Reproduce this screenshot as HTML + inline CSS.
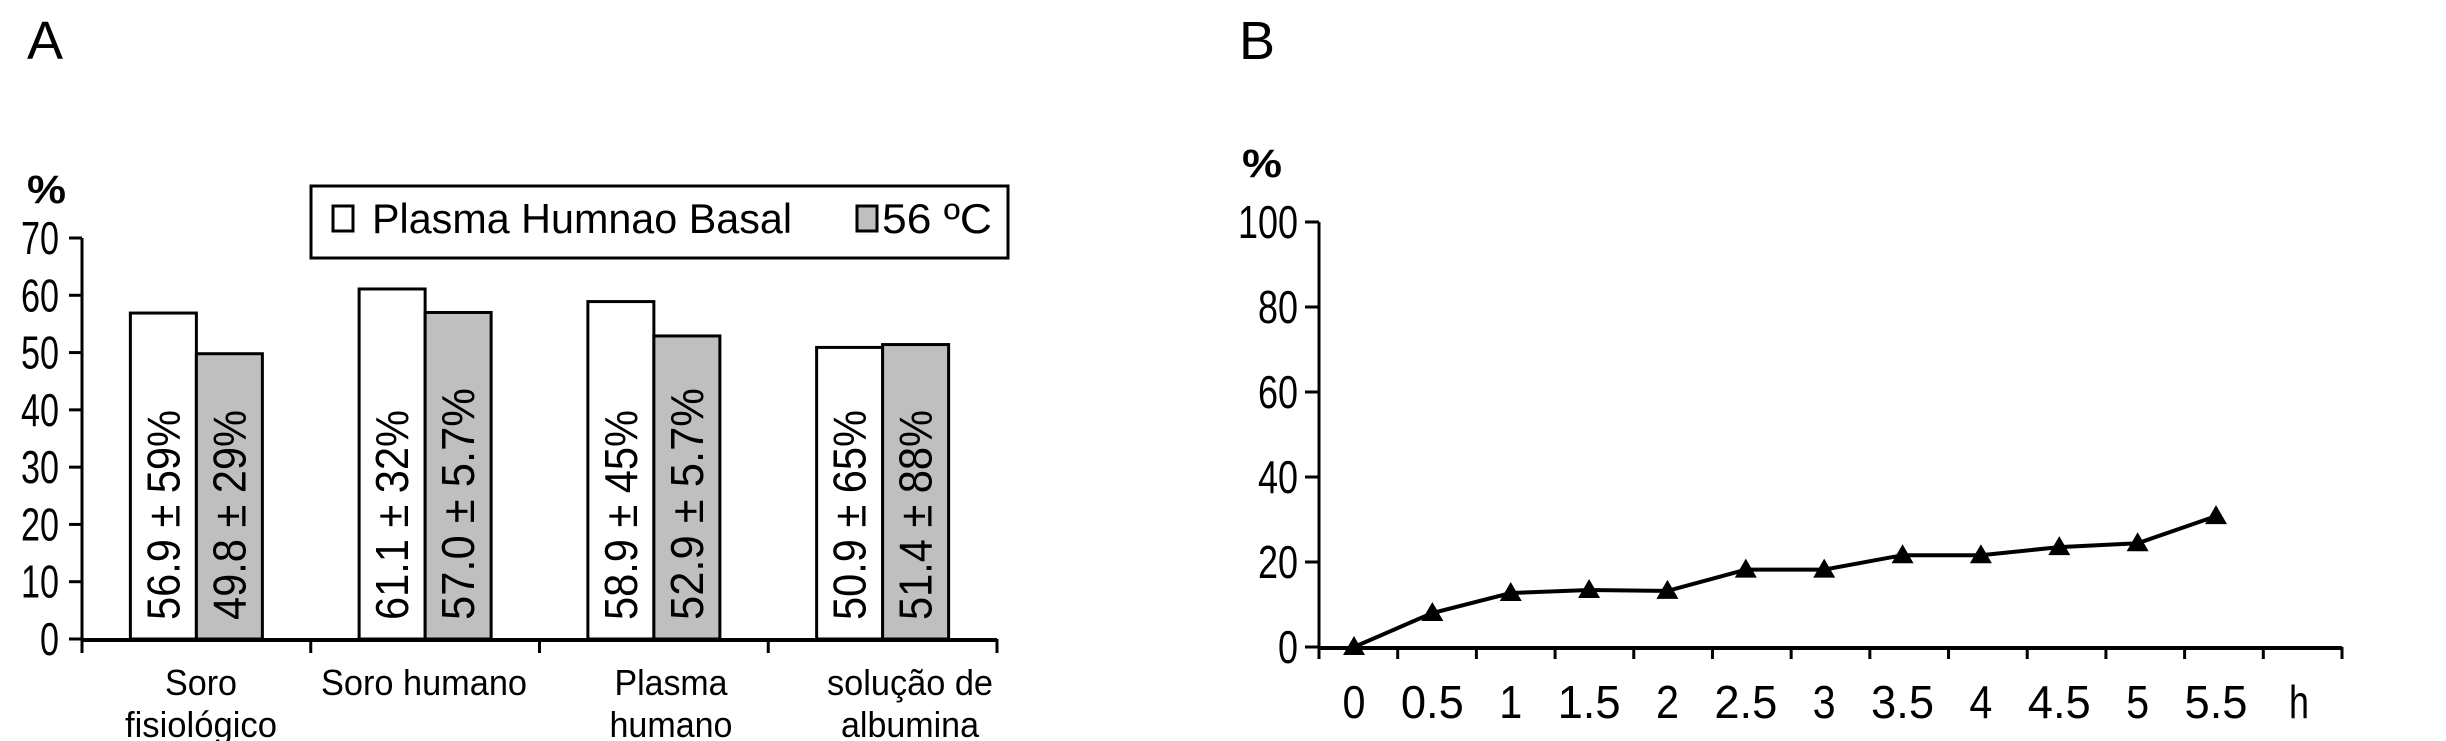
<!DOCTYPE html>
<html><head><meta charset="utf-8"><style>
html,body{margin:0;padding:0;background:#fff;}
svg{display:block;font-family:"Liberation Sans",sans-serif;}
</style></head><body>
<svg id="s" width="2446" height="741" viewBox="0 0 2446 741">
<text x="27" y="59" font-size="54">A</text>
<text x="1239" y="59" font-size="54">B</text>
<text x="27" y="203" font-size="40" font-weight="bold" textLength="39" lengthAdjust="spacingAndGlyphs">%</text>
<text x="1242" y="177" font-size="40" font-weight="bold" textLength="40" lengthAdjust="spacingAndGlyphs">%</text>
<g>
<rect x="311" y="186" width="697" height="72" fill="#fff" stroke="#000" stroke-width="3"/>
<rect x="333" y="206" width="20" height="25" fill="#fff" stroke="#000" stroke-width="3"/>
<text x="372" y="233" font-size="42" textLength="420" lengthAdjust="spacingAndGlyphs">Plasma Humnao Basal</text>
<rect x="857" y="206" width="20" height="25" fill="#bfbfbf" stroke="#000" stroke-width="3"/>
<text x="882" y="233" font-size="42" textLength="110" lengthAdjust="spacingAndGlyphs">56 ºC</text>
</g>
<g id="ga"></g><g id="gb"></g>
</svg>
<script>
const categoriesA = [["Soro","fisiológico"],["Soro humano"],["Plasma","humano"],["solução de","albumina"]];
const basalValues = [56.9, 61.1, 58.9, 50.9];
const heatedValues = [49.8, 57.0, 52.9, 51.4];
const basalLabels = ["56.9 ± 59%","61.1 ± 32%","58.9 ± 45%","50.9 ± 65%"];
const heatedLabels = ["49.8 ± 29%","57.0 ± 5.7%","52.9 ± 5.7%","51.4 ± 88%"];
const ticksA = [0,10,20,30,40,50,60,70];
const timesB = [0,0.5,1,1.5,2,2.5,3,3.5,4,4.5,5,5.5];
const valuesB = [0,8,12.7,13.4,13.2,18.2,18.2,21.6,21.6,23.5,24.4,30.8];
const ticksB = [0,20,40,60,80,100];
const xLabelsB = ["0","0.5","1","1.5","2","2.5","3","3.5","4","4.5","5","5.5"];

const NS="http://www.w3.org/2000/svg";
function mk(p,t,a,txt){const e=document.createElementNS(NS,t);for(const k in a)e.setAttribute(k,a[k]);if(txt!=null)e.textContent=txt;p.appendChild(e);return e;}
const ga=document.getElementById('ga'), gb=document.getElementById('gb');

// Panel A
const ax0=82, ax1=997, ay0=639, ay70=238;
const yA=v=>ay0-(v/70)*(ay0-ay70);
const cw=(ax1-ax0)/categoriesA.length;
const cx=i=>ax0+cw*(i+0.5);
const bw=66;
ticksA.forEach(t=>{
  const tk=mk(ga,'line',{x1:69,x2:ax0,y1:yA(t),y2:yA(t),stroke:'#000','stroke-width':3});
  
  
  const lb=mk(ga,'text',{x:59,y:yA(t)+16,'font-size':46,'text-anchor':'end',textLength:String(t).length*19,lengthAdjust:'spacingAndGlyphs'},String(t));
  
  
});
const labelCenters=[201,424,671,910];
const labelWidths=[[72,152],[206],[113,123],[166,138]];
categoriesA.forEach((c,i)=>{
  const x=cx(i);
  [[basalValues[i],basalLabels[i],'#fff',x-bw,'bar-basal'],[heatedValues[i],heatedLabels[i],'#bfbfbf',x,'bar-56c']].forEach(([v,l,f,bx,nm])=>{
    const r=mk(ga,'rect',{x:bx,y:yA(v),width:bw,height:ay0-yA(v),fill:f,stroke:'#000','stroke-width':3});
    
    
    const tx=bx+bw/2+16;
    const t=mk(ga,'text',{x:tx,y:620,'font-size':46,transform:`rotate(-90 ${tx} 620)`,textLength:l.length>10?232:210,lengthAdjust:'spacingAndGlyphs'},l);
    
    
  });
  c.forEach((ln,j)=>{
    const t=mk(ga,'text',{x:labelCenters[i],y:695+j*42,'font-size':36,'text-anchor':'middle',textLength:labelWidths[i][j],lengthAdjust:'spacingAndGlyphs'},ln);
    
    
  });
});
for(let i=0;i<=categoriesA.length;i++){
  const tk=mk(ga,'line',{x1:ax0+cw*i,x2:ax0+cw*i,y1:ay0,y2:ay0+14,stroke:'#000','stroke-width':3});
  
  
}
let e=mk(ga,'line',{x1:ax0,x2:ax0,y1:ay70,y2:ay0+14,stroke:'#000','stroke-width':3});


e=mk(ga,'line',{x1:ax0,x2:ax1,y1:ay0+1,y2:ay0+1,stroke:'#000','stroke-width':4});



// Panel B
const bx0=1319, bx1=2342, by0=647, by100=222;
const yB=v=>by0-(v/100)*(by0-by100);
const step=(2216-1354)/11;
const xB=t=>1354+(t/0.5)*step;
ticksB.forEach(t=>{
  const tk=mk(gb,'line',{x1:1305,x2:bx0,y1:yB(t),y2:yB(t),stroke:'#000','stroke-width':3});
  
  
  const lb=mk(gb,'text',{x:1298,y:yB(t)+16,'font-size':46,'text-anchor':'end',textLength:String(t).length*20,lengthAdjust:'spacingAndGlyphs'},String(t));
  
  
});
for(let i=0;i<=13;i++){
  const x=bx0+(bx1-bx0)*i/13;
  const tk=mk(gb,'line',{x1:x,x2:x,y1:by0,y2:by0+12,stroke:'#000','stroke-width':3});
  
  
}
timesB.forEach((t,i)=>{
  const s=xLabelsB[i];
  const lb=mk(gb,'text',{x:xB(t),y:718,'font-size':46,'text-anchor':'middle',textLength:s.length===1?23:63,lengthAdjust:'spacingAndGlyphs'},s);
  
  
});
e=mk(gb,'text',{x:2299,y:718,'font-size':46,'text-anchor':'middle',textLength:20,lengthAdjust:'spacingAndGlyphs'},'h');


e=mk(gb,'line',{x1:bx0,x2:bx0,y1:by100,y2:by0+12,stroke:'#000','stroke-width':3});


e=mk(gb,'line',{x1:bx0,x2:bx1,y1:by0+1,y2:by0+1,stroke:'#000','stroke-width':4});


e=mk(gb,'polyline',{points:timesB.map((t,i)=>xB(t)+','+yB(valuesB[i])).join(' '),fill:'none',stroke:'#000','stroke-width':4});


timesB.forEach((t,i)=>{
  const x=xB(t), y=yB(valuesB[i]);
  const m=mk(gb,'polygon',{points:`${x},${y-11} ${x-11},${y+8} ${x+11},${y+8}`,fill:'#000'});
  
  
});
</script>
</body></html>
